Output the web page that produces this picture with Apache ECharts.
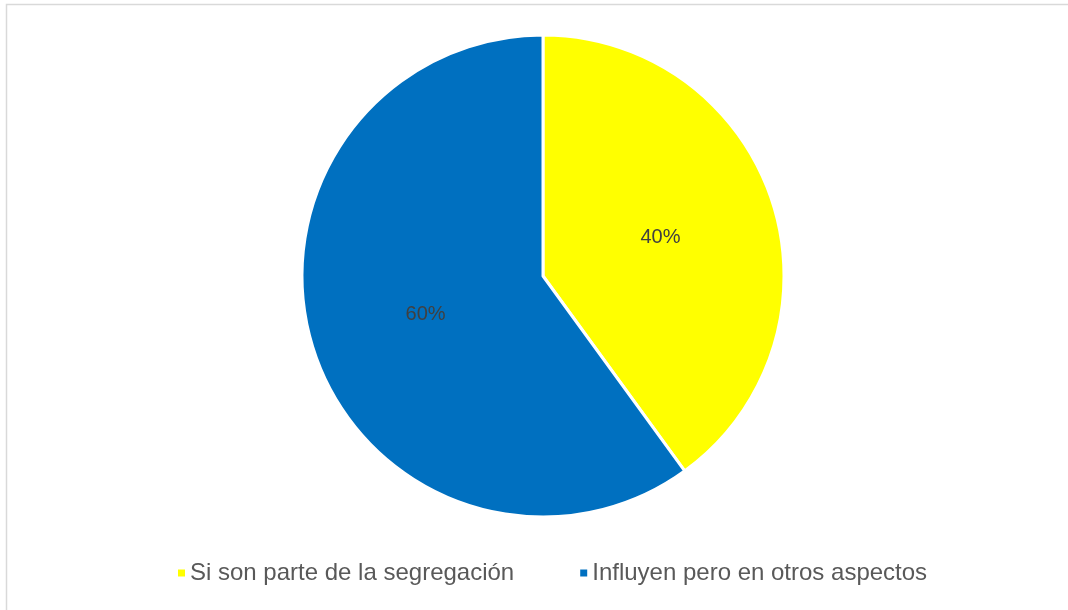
<!DOCTYPE html>
<html>
<head>
<meta charset="utf-8">
<script src="https://cdn.jsdelivr.net/npm/echarts@6/dist/echarts.min.js"></script>
<style>
html, body { margin: 0; padding: 0; background: #fff; }
#container { width: 1068px; height: 610px; }
</style>
</head>
<body>
<div id="container"></div>
<script>
let chart = echarts.init(document.getElementById('container'));

var categories = ['Si son parte de la segregación', 'Influyen pero en otros aspectos'];
var values = [40, 60];
var colors = ['#ffff00', '#0070c0'];

var pieData = categories.map((name, i) => ({
    name: name,
    value: values[i],
    itemStyle: { color: colors[i] }
}));

var option = {
    backgroundColor: '#fff',
    animation: false,
    graphic: [{
        type: 'rect',
        shape: { x: 6.5, y: 4.5, width: 1080, height: 640 },
        style: { fill: 'none', stroke: '#d9d9d9', lineWidth: 1.5 },
        silent: true
    }],
    legend: {
        data: categories,
        top: 556,
        left: 171,
        icon: 'rect',
        itemWidth: 9,
        itemHeight: 9,
        itemGap: 64,
        textStyle: {
            fontFamily: 'Liberation Sans, Arial, sans-serif',
            fontSize: 24,
            color: '#595959',
            padding: [0, 0, 0, -1]
        }
    },
    series: [{
        type: 'pie',
        center: [543, 276],
        radius: [0, 241],
        startAngle: 90,
        clockwise: true,
        itemStyle: {
            borderColor: '#fff',
            borderWidth: 3
        },
        label: {
            show: true,
            position: 'inside',
            formatter: '{d}%',
            fontFamily: 'Liberation Sans, Arial, sans-serif',
            fontSize: 20,
            color: '#404040'
        },
        labelLine: { show: false },
        data: pieData
    }]
};
chart.setOption(option);
</script>
</body>
</html>
